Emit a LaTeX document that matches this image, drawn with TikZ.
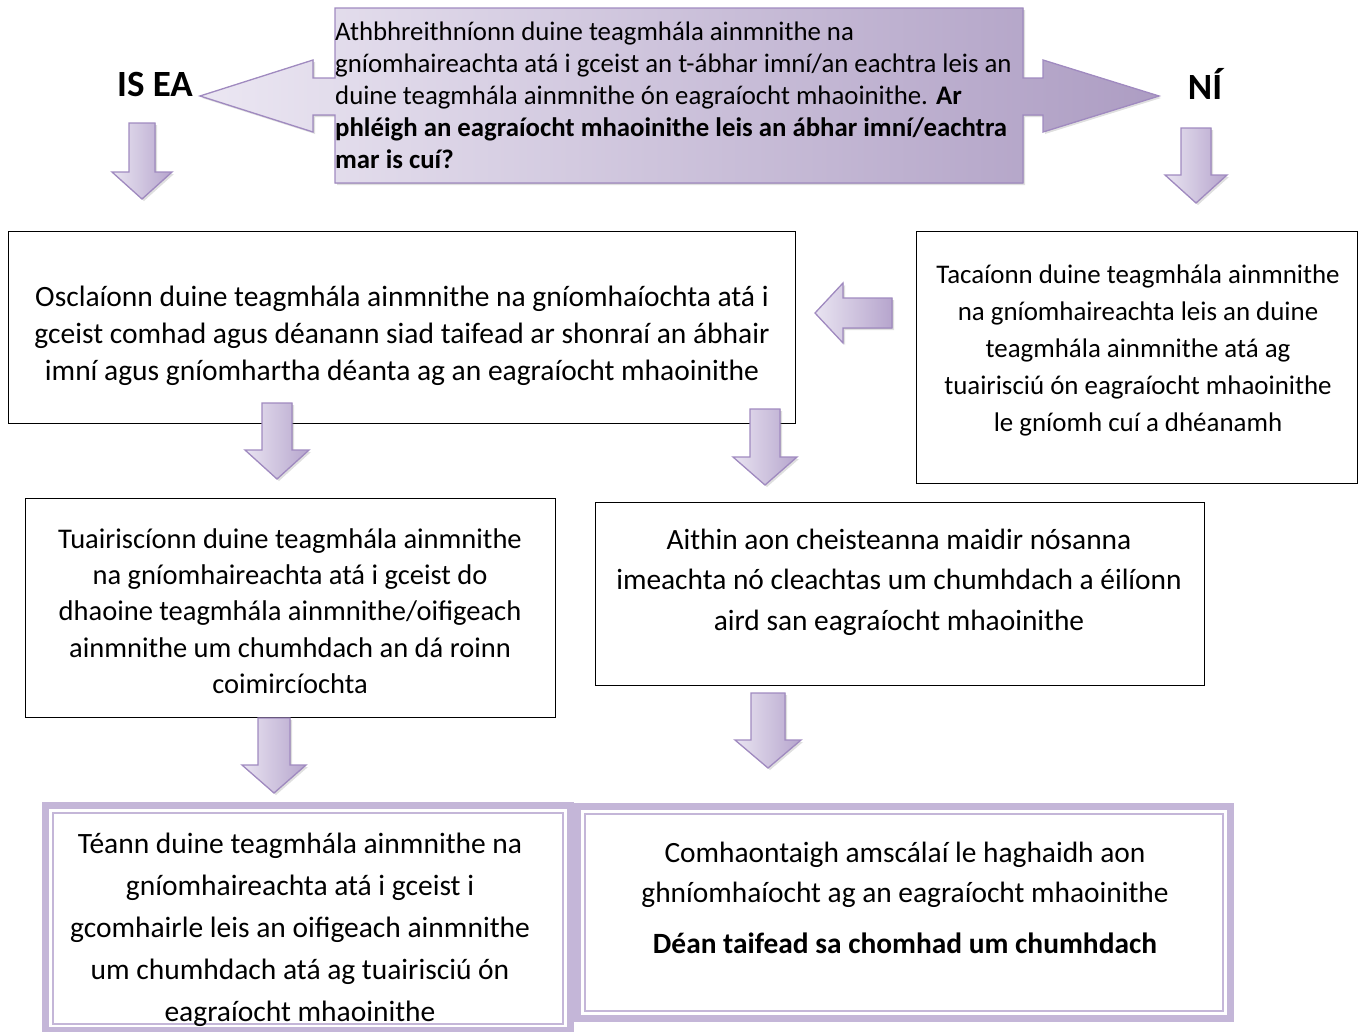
\documentclass[tikz,border=0pt]{standalone}
\usepackage{fontspec}
\setmainfont{Carlito}
\usetikzlibrary{shadows}
\definecolor{lav}{RGB}{196,182,216}
\definecolor{arrowedge}{RGB}{160,138,192}
\definecolor{lightl}{RGB}{233,228,241}
\definecolor{darkl}{RGB}{182,165,205}
\newcommand\dnarrow[7]{% name, cx, top, half shaft, half head, head base, tip
  \filldraw[blockarrow] ({#2-#4},#3) -- ({#2+#4},#3) -- ({#2+#4},#6) -- ({#2+#5},#6)
    -- (#2,#7) coordinate (#1) -- ({#2-#5},#6) -- ({#2-#4},#6) -- cycle;}
\begin{document}
\begin{tikzpicture}[x=1pt,y=-1pt,
  blockarrow/.style={draw=arrowedge, line width=1.3pt, left color=lightl, right color=darkl,
    drop shadow={opacity=0.25, shadow xshift=2pt, shadow yshift=-2pt}},
  flowbox/.style={draw=black, line width=0.9pt, fill=white, anchor=north west, inner sep=0pt},
  bodytext/.style={align=center, inner sep=0pt, font=\fontsize{29.5}{37}\selectfont},
  smalltext/.style={align=center, inner sep=0pt, font=\fontsize{26.9}{37}\selectfont},
  toptext/.style={align=left, inner sep=0pt, anchor=west, font=\fontsize{26.8}{32}\selectfont},
  answer/.style={inner sep=0pt, font=\fontsize{37}{40}\selectfont\bfseries},
  outerband/.style={draw=lav, line width=7pt},
  innerline/.style={draw=lav, line width=2pt}]
\useasboundingbox (0,0) rectangle (1364,1031);
\clip (0,0) rectangle (1364,1031);

% top question callout with two side arrows
\filldraw[blockarrow, left color=lightl!90!white, right color=darkl!95!black]
  (335,8) -- (1023,8) -- (1023,78) -- (1043,78) -- (1043,60) -- (1159,96)
  -- (1043,132) -- (1043,115) -- (1023,115) -- (1023,183) -- (335,183)
  -- (335,115) -- (313,115) -- (313,132) -- (200,96) -- (313,60) -- (313,78)
  -- (335,78) -- cycle;
\node[toptext] (q) at (335,95) {Athbhreithníonn duine teagmhála ainmnithe na\\
gníomhaireachta atá i gceist an t-ábhar imní/an eachtra leis an\\
duine teagmhála ainmnithe ón eagraíocht mhaoinithe. \textbf{Ar}\\
\textbf{phléigh an eagraíocht mhaoinithe leis an ábhar imní/eachtra}\\
\textbf{mar is cuí?}};

\node[answer] (yes) at (155,84) {IS EA};
\node[answer] (no) at (1205,84) {NÍ};

\dnarrow{ay}{142}{123}{13}{30}{172}{199}
\dnarrow{an}{1196}{128}{15}{31}{175}{203}

% boxes
\node[flowbox, minimum width=787pt, minimum height=192pt] (A) at (8,231) {};
\node[bodytext] (At) at (402,336) {Osclaíonn duine teagmhála ainmnithe na gníomhaíochta atá i\\
gceist comhad agus déanann siad taifead ar shonraí an ábhair\\
imní agus gníomhartha déanta ag an eagraíocht mhaoinithe};

\node[flowbox, minimum width=441pt, minimum height=252pt] (B) at (916,231) {};
\node[smalltext] (Bt) at (1138,350) {Tacaíonn duine teagmhála ainmnithe\\
na gníomhaireachta leis an duine\\
teagmhála ainmnithe atá ag\\
tuairisciú ón eagraíocht mhaoinithe\\
le gníomh cuí a dhéanamh};

% left arrow B -> A
\filldraw[blockarrow] (892,298) -- (892,328) -- (843,328) -- (843,343) -- (815,313)
  -- (843,283) -- (843,298) -- cycle;

\dnarrow{a1}{277}{403}{15}{32}{450}{479}
\dnarrow{a2}{765}{409}{15}{32}{457}{485}

\node[flowbox, minimum width=530pt, minimum height=219pt] (C) at (25,498) {};
\node[bodytext, font=\fontsize{28.5}{36.2}\selectfont] (Ct) at (290,611) {Tuairiscíonn duine teagmhála ainmnithe\\
na gníomhaireachta atá i gceist do\\
dhaoine teagmhála ainmnithe/oifigeach\\
ainmnithe um chumhdach an dá roinn\\
coimircíochta};

\node[flowbox, minimum width=609pt, minimum height=183pt] (D) at (595,502) {};
\node[bodytext, font=\fontsize{29.4}{40.5}\selectfont] (Dt) at (899,582) {Aithin aon cheisteanna maidir nósanna\\
imeachta nó cleachtas um chumhdach a éilíonn\\
aird san eagraíocht mhaoinithe};

\dnarrow{a3}{274}{718}{16}{32}{765}{793}
\dnarrow{a4}{768}{693}{17}{33}{740}{768}

% double-bordered boxes
\draw[outerband] (45.5,805.5) rectangle (570.5,1030.5);
\draw[innerline] (53,813) rectangle (563,1024);
\draw[outerband] (577.5,806.5) rectangle (1230.5,1018.5);
\draw[innerline] (585,814) rectangle (1223,1011);
\node[bodytext, font=\fontsize{29.5}{42}\selectfont] (Et) at (300,930) {Téann duine teagmhála ainmnithe na\\
gníomhaireachta atá i gceist i\\
gcomhairle leis an oifigeach ainmnithe\\
um chumhdach atá ag tuairisciú ón\\
eagraíocht mhaoinithe};
\node[bodytext, font=\fontsize{29.4}{40}\selectfont] (Ft) at (905,875) {Comhaontaigh amscálaí le haghaidh aon\\
ghníomhaíocht ag an eagraíocht mhaoinithe};
\node[bodytext, font=\fontsize{29.4}{37}\selectfont\bfseries] (Fb) at (905,943) {Déan taifead sa chomhad um chumhdach};
\end{tikzpicture}
\end{document}
